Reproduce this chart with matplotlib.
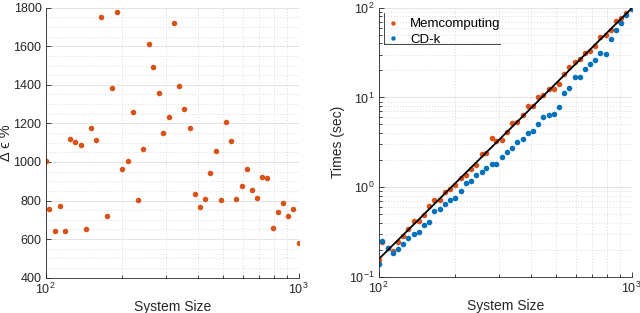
import matplotlib

matplotlib.use("Agg")
import matplotlib.pyplot as plt
from matplotlib.lines import Line2D
from matplotlib.ticker import MultipleLocator, LogLocator, NullFormatter

plt.rcParams["font.family"] = ["Liberation Sans", "DejaVu Sans"]
plt.rcParams["mathtext.fontset"] = "custom"
plt.rcParams["mathtext.rm"] = "Liberation Sans"
plt.rcParams["mathtext.it"] = "Liberation Sans:italic"
plt.rcParams["mathtext.bf"] = "Liberation Sans:bold"

ORANGE = "#D95319"
BLUE = "#0072BD"
AXC = "#262626"

# system sizes (same for both panels)
sizes = [100, 103, 109, 114, 119, 125, 131, 138, 144, 151,
         158, 166, 175, 183, 192, 201, 211, 221, 232, 243,
         255, 266, 280, 292, 306, 321, 337, 353, 371, 390,
         408, 428, 448, 470, 493, 514, 540, 567, 595, 625,
         654, 684, 718, 751, 789, 826, 867, 907, 952, 1000]

# left panel: delta epsilon %
delta_eps = [1005, 755, 641, 773, 642, 1119, 1105, 1087, 653, 1178,
             1112, 1753, 722, 1385, 1778, 962, 1004, 1261, 801, 1069,
             1610, 1493, 1359, 1150, 1232, 1721, 1394, 1273, 1176, 836,
             767, 808, 943, 1059, 804, 1206, 1107, 808, 876, 964,
             855, 812, 921, 917, 658, 742, 786, 718, 758, 578]

# right panel: times (sec)
t_mem = [0.155, 0.245, 0.21, 0.197, 0.248, 0.287, 0.345, 0.418, 0.416, 0.493,
         0.612, 0.713, 0.715, 0.885, 0.957, 1.07, 1.26, 1.37, 1.60, 1.78,
         2.37, 2.40, 3.58, 3.30, 3.36, 4.10, 5.24, 5.27, 6.38, 8.1,
         8.1, 10.2, 10.6, 12.4, 12.3, 14.3, 18.3, 22.0, 24.7, 26.6,
         31.1, 33.2, 37.4, 46.8, 50.0, 56.9, 71.6, 76.7, 86.6, 101]
t_cdk = [0.141, 0.250, 0.210, 0.185, 0.206, 0.232, 0.269, 0.298, 0.319, 0.375,
         0.412, 0.545, 0.572, 0.658, 0.721, 0.755, 0.915, 1.12, 1.17, 1.36,
         1.47, 1.63, 1.80, 1.80, 2.19, 2.48, 2.71, 3.20, 3.46, 4.03,
         4.23, 5.0, 6.01, 6.38, 6.6, 7.84, 11.3, 12.8, 16.7, 16.7,
         20.6, 23.4, 25.9, 31.1, 30.2, 44.5, 56.0, 67.6, 82.2, 96.8]

# power-law fit end points
fit_x = [100, 1000]
fit_y = [0.158, 98.5]


def style_axes(ax):
    for side in ("top", "right"):
        ax.spines[side].set_visible(False)
    for side in ("left", "bottom"):
        ax.spines[side].set_color(AXC)
        ax.spines[side].set_linewidth(0.6)
    ax.tick_params(which="both", direction="in", colors=AXC,
                   labelsize=9, width=0.6, pad=3)
    ax.tick_params(which="major", length=3.5)
    ax.tick_params(which="minor", length=2)
    ax.grid(True, which="major", color="#e3e3e3", linewidth=0.7)
    ax.grid(True, which="minor", color="#dadada", linewidth=0.7,
            linestyle=(0, (1, 2)))
    ax.set_axisbelow(True)


fig = plt.figure(figsize=(6.4, 3.13), dpi=100)

# ---- left panel
ax1 = fig.add_axes([0.0714, 0.1128, 0.3953, 0.8626])
ax1.plot(sizes, delta_eps, "o", color=ORANGE, markersize=4,
         markeredgewidth=0)
ax1.set_xscale("log")
ax1.set_xlim(100, 1000)
ax1.set_ylim(400, 1800)
ax1.yaxis.set_major_locator(MultipleLocator(200))
ax1.yaxis.set_minor_locator(MultipleLocator(50))
ax1.xaxis.set_minor_locator(LogLocator(subs=range(2, 10)))
ax1.xaxis.set_minor_formatter(NullFormatter())
style_axes(ax1)
ax1.tick_params(axis="y", which="minor", length=0)
ax1.set_xlabel("System Size", fontsize=10, color=AXC, labelpad=2)
ax1.set_ylabel("Δ ϵ %", fontsize=10.5, color=AXC)
ax1.yaxis.set_label_coords(-0.128, 0.5)

# ---- right panel
ax2 = fig.add_axes([0.5917, 0.115, 0.3953, 0.8604])
ax2.plot(sizes, t_mem, "o", color=ORANGE, markersize=4,
         markeredgewidth=0, label="Memcomputing")
ax2.plot(sizes, t_cdk, "o", color=BLUE, markersize=4,
         markeredgewidth=0, label="CD-k")
ax2.plot(fit_x, fit_y, "-", color="black", linewidth=1.3)
ax2.set_xscale("log")
ax2.set_yscale("log")
ax2.set_xlim(100, 1000)
ax2.set_ylim(0.1, 100)
for axis in (ax2.xaxis, ax2.yaxis):
    axis.set_minor_locator(LogLocator(subs=range(2, 10)))
    axis.set_minor_formatter(NullFormatter())
style_axes(ax2)
ax2.set_xlabel("System Size", fontsize=10, color=AXC, labelpad=2)
ax2.set_ylabel("Times (sec)", fontsize=10, color=AXC, labelpad=3)

leg = ax2.legend(loc="upper left", bbox_to_anchor=(0.0, 1.0),
                 frameon=False, fontsize=9.5, handlelength=0.6,
                 handletextpad=1.0, borderaxespad=0.3, labelspacing=0.25,
                 borderpad=0.5)
for txt in leg.get_texts():
    txt.set_color("black")
for h in leg.legend_handles:
    h.set_markersize(3.2)

# legend frame: only left and bottom edges, as in the original
ax2.add_line(Line2D([0.022, 0.022], [0.865, 0.98], transform=ax2.transAxes,
                    color=AXC, linewidth=0.6))
ax2.add_line(Line2D([0.022, 0.48], [0.865, 0.865], transform=ax2.transAxes,
                    color=AXC, linewidth=0.6))

fig.savefig("out.png", dpi=100)
